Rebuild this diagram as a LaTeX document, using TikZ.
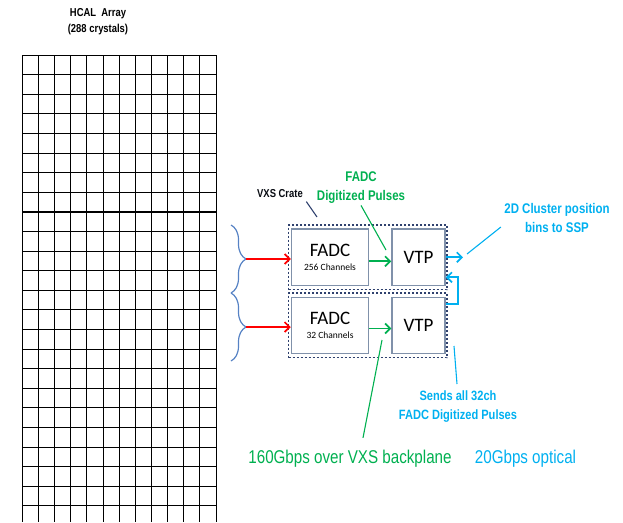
\documentclass[tikz,border=0pt]{standalone}
\usepackage{fontspec}
\setmainfont{Carlito}
\newfontfamily\narrowfont[FakeStretch=0.82]{Liberation Sans}
\usetikzlibrary{arrows.meta,positioning,decorations.pathreplacing}
\definecolor{pulsegreen}{RGB}{0,176,80}
\definecolor{opticcyan}{RGB}{0,176,240}
\definecolor{bracegray}{RGB}{86,130,196}
\definecolor{cratenavy}{RGB}{47,65,110}
\definecolor{boxgray}{RGB}{128,145,170}

\begin{document}
\begin{tikzpicture}[x=1pt,y=-1pt,
    modbox/.style={draw=boxgray,line width=1.5pt,fill=white,inner sep=0pt,align=center},
    crate/.style={draw=cratenavy,line width=1.3pt,dash pattern=on 2.5pt off 1.5pt,inner sep=0pt},
    tag/.style={font=\narrowfont\bfseries\fontsize{14}{19}\selectfont,align=center},
    rate/.style={font=\narrowfont\fontsize{18.5}{22}\selectfont},
    sig/.style={line width=1.7pt,-{Straight Barb[length=5pt,width=10pt]}},
    ptr/.style={line width=1.1pt},
    hcalbrace/.style={bracegray,line width=1.2pt,decorate,decoration={brace,amplitude=15pt}}]
    \useasboundingbox (0,0) rectangle (623,522);

    % HCAL array, 12 x 24 crystals
    \foreach \c in {0,...,12}
        \draw[line width=0.9pt] (22.3+16.14*\c,55) -- (22.3+16.14*\c,522);
    \foreach \r in {0,...,23}
        \draw[line width=0.9pt] (22.3,55+19.6*\r) -- (216,55+19.6*\r);
    \draw[line width=2pt] (22.3,211.8) -- (216,211.8);
    \draw[line width=1.5pt] (22.3,368.6) -- (216,368.6);
    \node[tag,font=\narrowfont\bfseries\fontsize{11.5}{16}\selectfont] (hcal) at (98,22) {HCAL\ \ Array\\(288 crystals)};

    % braces over the array halves
    \draw[hcalbrace] (231,225) -- (231,293);
    \draw[hcalbrace] (231,293) -- (231,361);
    \coordinate (tipA) at (246,259);
    \coordinate (tipB) at (246,327);

    % VXS crate slots
    \node[crate,minimum width=158.5pt,minimum height=64.5pt] (crateA) at (367.75,257.25) {};
    \node[crate,minimum width=158.5pt,minimum height=64.5pt] (crateB) at (367.75,325.25) {};

    % modules
    \node[modbox,minimum width=77pt,minimum height=56.5pt] (fadcA) at (330,257.3)
        {{\fontsize{19}{20}\selectfont FADC}\\[2pt]{\fontsize{9.5}{11}\selectfont 256 Channels}};
    \node[modbox,minimum width=53pt,minimum height=56.5pt] (vtpA) at (418.5,257.3)
        {\fontsize{19}{20}\selectfont VTP};
    \node[modbox,minimum width=77pt,minimum height=56pt] (fadcB) at (330,325.5)
        {{\fontsize{19}{20}\selectfont FADC}\\[2pt]{\fontsize{9.5}{11}\selectfont 32 Channels}};
    \node[modbox,minimum width=53pt,minimum height=56pt] (vtpB) at (418.5,325.5)
        {\fontsize{19}{20}\selectfont VTP};

    % signal arrows
    \draw[sig,red] (tipA) -- (tipA -| fadcA.west);
    \draw[sig,red] (tipB) -- (tipB -| fadcB.west);
    \draw[sig,pulsegreen] ([yshift=-4pt]fadcA.east) -- ([yshift=-4pt]vtpA.west);
    \draw[sig,pulsegreen] ([yshift=-3pt]fadcB.east) -- ([yshift=-3pt]vtpB.west);
    \coordinate (sspOut) at (463,257.3);
    \draw[sig,opticcyan] (vtpA.east) -- (sspOut);
    \draw[sig,opticcyan] ([yshift=-7pt]vtpB.north east) -- ++(12,0) |- ([yshift=9pt]vtpA.south east);

    % labels
    \node[tag,font=\narrowfont\bfseries\fontsize{11.5}{14}\selectfont,text=black!85!cratenavy] (vxs) at (280,194) {VXS Crate};
    \node[tag,text=pulsegreen] (pulses) at (361,188) {FADC\\Digitized Pulses};
    \node[tag,text=opticcyan] (sspTag) at (557,218) {2D Cluster position\\bins to SSP};
    \node[tag,text=opticcyan,font=\narrowfont\bfseries\fontsize{13.5}{19}\selectfont] (sendsTag) at (458,407) {Sends all 32ch\\FADC Digitized Pulses};
    \node[rate,text=pulsegreen] (vxsRate) at (350,459) {160Gbps over VXS backplane};
    \node[rate,text=opticcyan] (optRate) at (525.5,459) {20Gbps optical};

    % label leaders
    \coordinate (crateCorner) at (317,217);
    \coordinate (pulseFoot) at (386,250);
    \coordinate (sspFoot) at (467,254);
    \coordinate (sendsFoot) at (454,346);
    \coordinate (sendsTop) at (457,384);
    \coordinate (backFoot) at (382,340);
    \draw[ptr,cratenavy] (vxs.south east) -- (crateCorner);
    \draw[ptr,pulsegreen] ([yshift=2pt]pulses.south) -- (pulseFoot);
    \draw[ptr,opticcyan] ([yshift=6pt]sspTag.195) -- (sspFoot);
    \draw[ptr,opticcyan] (sendsTop) -- (sendsFoot);
    \draw[ptr,pulsegreen] ([xshift=13pt,yshift=9pt]vxsRate.north) -- (backFoot);
\end{tikzpicture}
\end{document}
